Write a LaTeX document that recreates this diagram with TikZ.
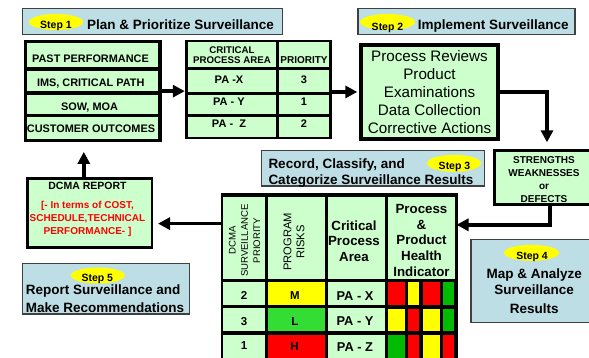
\documentclass[tikz,border=0pt]{standalone}
\usepackage{fontspec}
\setmainfont{Liberation Sans}
\usetikzlibrary{arrows.meta,fit,shapes.geometric}
\definecolor{lgreen}{HTML}{CCFFCC}
\definecolor{lblue}{RGB}{190,222,229}
\definecolor{hline}{HTML}{404040}
\definecolor{ylw}{HTML}{FFFF00}
\definecolor{rd}{HTML}{FF0000}
\definecolor{lgr}{RGB}{51,221,51}
\definecolor{bgr}{RGB}{0,187,0}
\definecolor{rtxt}{HTML}{FF0000}
\newcommand\fs[2]{\fontsize{#1}{#2}\selectfont}
\newcommand\lns[2]{\begin{tabular}[t]{@{}#1@{}}#2\end{tabular}}
\begin{document}
\begin{tikzpicture}[x=1pt,y=-1pt,
  blk/.style={fill=black, inner sep=0pt},
  gcell/.style={fill=lgreen, inner sep=0pt},
  hdr/.style={fill=lblue, draw=hline, line width=1.2pt, inner sep=0pt},
  stepel/.style={ellipse, fill=ylw, inner sep=0pt, minimum width=54pt, minimum height=16pt},
  txt/.style={inner sep=0pt, anchor=base},
  txtw/.style={inner sep=0pt, anchor=base west},
  steptxt/.style={txt, font={\fs{10.5}{12}\bfseries}},
  htxt/.style={font={\fs{13.5}{16}\bfseries}},
  arr/.style={line width=3.8pt, -{Triangle[length=12pt,width=12pt]}},
]
\useasboundingbox (0,0) rectangle (589,358);

% ---------- Step 1 header
\node[hdr, fit={(22.7,8.3) (282.7,34.3)}] (h1) {};
\node[stepel] (e1) at (56,22) {};
\node[steptxt] (e1t) at (56,29) {Step 1};
\node[txt, htxt] (h1t) at (180.5,30) {Plan \& Prioritize Surveillance};

% ---------- Step 2 header
\node[hdr, fit={(358,8.3) (575,34.3)}] (h2) {};
\node[stepel, minimum width=55pt] (e2) at (387.5,22) {};
\node[steptxt] (e2t) at (387.5,30.3) {Step 2};
\node[txt, htxt] (h2t) at (493.3,30) {Implement Surveillance};

% ---------- list box
\node[blk, fit={(24.3,40) (161.7,142.3)}] (list) {};
\node[gcell, fit={(27.3,43) (157.5,67.5)}] (l1) {};
\node[gcell, fit={(27.3,71) (157.5,91.3)}] (l2) {};
\node[gcell, fit={(27.3,95) (157.5,114)}] (l3) {};
\node[gcell, fit={(27.3,117) (157.5,139.3)}] (l4) {};
\begin{scope}[every node/.style={txt, font={\fs{10.9}{12}\bfseries}}]
\node (l1t) at (90.5,62.7) {PAST PERFORMANCE};
\node (l2t) at (90.7,86.7) {IMS, CRITICAL PATH};
\node (l3t) at (89.5,110.7) {SOW, MOA};
\node (l4t) at (91,132.7) {CUSTOMER OUTCOMES};
\end{scope}

% ---------- critical process table
\node[blk, fit={(185,40) (331.7,139.3)}] (ctab) {};
\foreach \ya/\yb [count=\r] in {42.5/67, 70.5/92, 95/114, 117.3/137.3} {
  \node[gcell, fit={(187.5,\ya) (276,\yb)}] (ca\r) {};
  \node[gcell, fit={(279.3,\ya) (329.3,\yb)}] (cb\r) {};
}
\node[txt, font={\fs{9.7}{10}\bfseries}] (cht) at (232,53.5) {\lns{c}{CRITICAL\\PROCESS AREA}};
\node[txt, font={\fs{10}{12}\bfseries}] (chp) at (304,63.3) {PRIORITY};
\begin{scope}[every node/.style={txt, font={\fs{11}{12}\bfseries}}]
\node (c1a) at (229,84) {PA -X};
\node (c1b) at (304,84) {3};
\node (c2a) at (229,106) {PA - Y};
\node (c2b) at (304,106) {1};
\node (c3a) at (229,127.7) {PA -\ \ Z};
\node (c3b) at (304,127.7) {2};
\end{scope}

% ---------- process box
\node[gcell, draw=black, line width=4pt, fit={(361.3,44.7) (498,139)}] (proc) {};
\node[txt, font={\fs{15.2}{18}}] (proct) at (429.5,62)
  {\lns{c}{Process Reviews\\Product\\Examinations\\Data Collection\\Corrective Actions}};

% ---------- strengths box
\node[gcell, draw=black, line width=3pt, fit={(494.8,150.8) (596,205)}] (str) {};
\node[txt, font={\fs{10}{13}\bfseries}] (strt) at (544,164)
  {\lns{c}{STRENGTHS\\WEAKNESSES\\or\\\underline{DEFECTS}}};

% ---------- Step 3 header
\node[hdr, fit={(261.7,150.7) (484.3,186)}] (h3) {};
\node[stepel, minimum height=17pt] (e3) at (454,163.3) {};
\node[steptxt] (e3t) at (454.5,169.5) {Step 3};
\node[txtw, font={\fs{13.5}{15.5}\bfseries}] (h3t) at (268.3,169)
  {\lns{l}{Record, Classify, and\\Categorize Surveillance Results}};

% ---------- main table
\node[blk, fit={(220.7,193.3) (458.3,362)}] (mtab) {};
\node[gcell, fit={(223.3,196.7) (265,279)}] (m01) {};
\node[gcell, fit={(267.5,196.7) (325,279)}] (m02) {};
\node[gcell, fit={(327.5,196.7) (385,279)}] (m03) {};
\node[gcell, fit={(388.3,196.7) (455,279)}] (m04) {};
\foreach \ya/\yb/\rc [count=\r] in {282/305/ylw, 308.3/331.3/lgr, 335/362/rd} {
  \node[gcell, fit={(223.3,\ya) (265,\yb)}] (m\r1) {};
  \node[fill=\rc, inner sep=0pt, fit={(268.3,\ya) (325,\yb)}] (m\r2) {};
  \node[gcell, fit={(327.5,\ya) (385,\yb)}] (m\r3) {};
}
\foreach \ya/\yb/\ca/\cb/\cc/\cd [count=\r] in
  {281.5/305/rd/ylw/rd/bgr, 308.5/331.3/ylw/rd/ylw/bgr, 335/362/bgr/rd/ylw/rd} {
  \node[fill=\ca, inner sep=0pt, fit={(388.3,\ya) (405,\yb)}] (b\r a) {};
  \node[fill=\cb, inner sep=0pt, fit={(408,\ya) (419.3,\yb)}] (b\r b) {};
  \node[fill=\cc, inner sep=0pt, fit={(423,\ya) (440,\yb)}] (b\r c) {};
  \node[fill=\cd, inner sep=0pt, fit={(443.3,\ya) (454,\yb)}] (b\r d) {};
}
\node[rotate=90, inner sep=0pt, align=center, font={\fs{9.6}{12.3}}] (vh1) at (244.5,240.5)
  {DCMA\\SURVEILLANCE\\PRIORITY};
\node[rotate=90, inner sep=0pt, align=center, font={\fs{11.2}{13}}] (vh2) at (294,242)
  {PROGRAM\\RISKS};
\node[txt, font={\fs{13.3}{15.8}\bfseries}] (vh3) at (354,230)
  {\lns{c}{Critical\\Process\\Area}};
\node[txt, font={\fs{13.3}{15.8}\bfseries}] (vh4) at (421.5,213.3)
  {\lns{c}{Process\\\&\\Product\\Health\\Indicator}};
\begin{scope}[every node/.style={txt, font={\fs{11.5}{12}\bfseries}}]
\node (r1a) at (244,299.5) {2};
\node (r2a) at (244,325) {3};
\node (r3a) at (244,349.5) {1};
\node (r1b) at (295,299.5) {M};
\node (r2b) at (295,325) {L};
\node (r3b) at (294.5,350) {H};
\end{scope}
\begin{scope}[every node/.style={txt, font={\fs{12.8}{14}\bfseries}}]
\node (r1c) at (355,300) {PA - X};
\node (r2c) at (355,325.5) {PA - Y};
\node (r3c) at (355,351.5) {PA - Z};
\end{scope}

% ---------- Step 4 header
\node[hdr, fit={(471,239.3) (597,322.7)}] (h4) {};
\node[stepel, minimum width=55pt] (e4) at (531.5,252.8) {};
\node[steptxt] (e4t) at (532,259) {Step 4};
\node[txt, font={\fs{13.5}{16}\bfseries}] (h4t) at (534.2,278.3)
  {\lns{c}{Map \& Analyze\\Surveillance\\[3pt]Results}};

% ---------- DCMA report
\node[gcell, draw=black, line width=2.6pt, fit={(27.2,178.6) (152,247.8)}] (dcma) {};
\node[txt, font={\fs{10.5}{12}\bfseries}] (dcmat) at (87.5,190) {DCMA REPORT};
\node[txt, text=rtxt, font={\fs{10}{12.7}\bfseries}] (dcmar) at (87.5,209)
  {\lns{c}{[- In terms of COST,\\SCHEDULE,TECHNICAL\\PERFORMANCE- ]}};

% ---------- Step 5 header
\node[hdr, fit={(22.3,263.3) (189.3,314)}] (h5) {};
\node[stepel] (e5) at (97.8,275.5) {};
\node[steptxt] (e5t) at (97.3,281) {Step 5};
\node[txtw, font={\fs{13.5}{18.4}\bfseries}] (h5t) at (25.7,294.3)
  {\lns{l}{Report Surveillance and\\Make Recommendations}};

% ---------- connectors
\draw[arr] (list.east) -- (list.east -| ctab.west);
\draw[arr, shorten >=2pt] ([yshift=-2.3pt]ctab.east) -- ([yshift=-2.3pt]ctab.east -| proc.west);
\draw[arr, shorten >=7pt] (proc.east) -| ([xshift=1.6pt]str.north);
\draw[arr, shorten >=-2pt] ([xshift=4.3pt]str.south) |- ([yshift=-31.7pt]mtab.north east);
\draw[arr, shorten >=4.7pt] ([yshift=-30.5pt]mtab.north west) -- ([yshift=-30.5pt]mtab.north west -| dcma.east);
\draw[arr, shorten >=9.4pt] ([xshift=-5.8pt]dcma.north) -- ([xshift=-5.8pt]dcma.north |- list.south);
\end{tikzpicture}
\end{document}
